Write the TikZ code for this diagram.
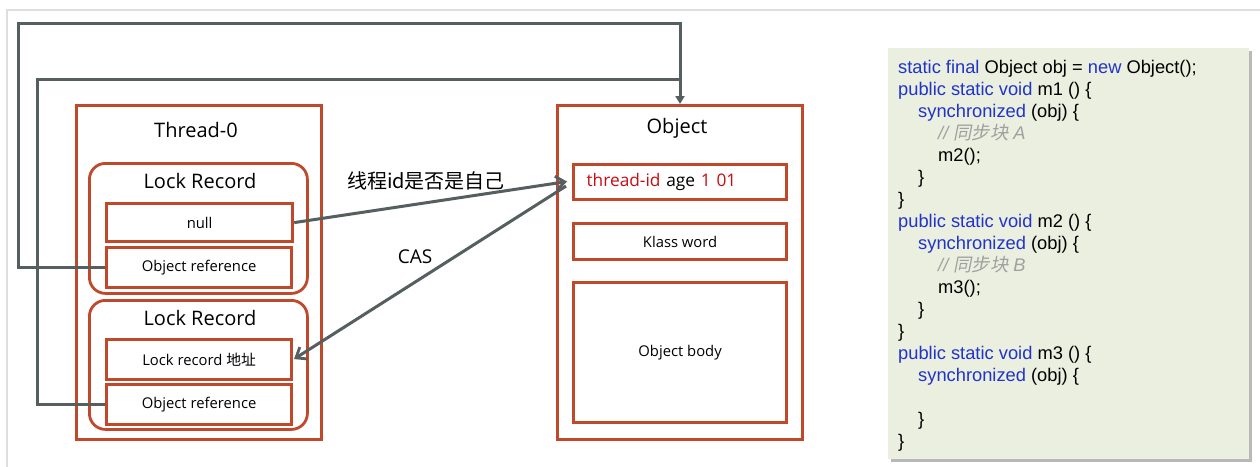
\documentclass[tikz,border=0pt]{standalone}
\usepackage{fontspec}
\setmainfont{Open Sans}
\newfontfamily\cjk{Noto Sans CJK SC}
\newfontfamily\cjkslant{Noto Sans CJK SC}[FakeSlant=0.2]
\newfontfamily\codefont{Liberation Sans}
\usetikzlibrary{arrows.meta}
\definecolor{boxred}{RGB}{192,72,43}
\definecolor{wire}{RGB}{85,95,95}
\definecolor{kw}{RGB}{32,52,200}
\definecolor{cmtgray}{RGB}{160,160,160}
\definecolor{codebg}{RGB}{235,239,223}
\definecolor{idred}{RGB}{200,12,20}
\definecolor{frame}{RGB}{222,222,222}
\newcommand\kwd[1]{\textcolor{kw}{#1}}
\newcommand\cmt[1]{\textcolor{cmtgray}{\itshape #1}}
\begin{document}
\begin{tikzpicture}[x=1pt,y=-1pt,
  outerbox/.style={draw=boxred,line width=3pt,anchor=north west,inner sep=0pt},
  recordbox/.style={draw=boxred,line width=2.8pt,rounded corners=16pt,anchor=north west,inner sep=0pt},
  field/.style={draw=boxred,line width=3.2pt,anchor=north west,inner sep=0pt,
    font=\fontsize{14.8}{17}\selectfont},
  heading/.style={font=\fontsize{20}{24}\selectfont,inner sep=0pt},
  wire/.style={draw=wire,line width=3pt},
  label/.style={font=\fontsize{19}{22}\selectfont,inner sep=0pt},
  codeline/.style={anchor=base west,inner sep=0pt,font=\codefont\fontsize{18.3}{22}\selectfont}]

% page and frame
\useasboundingbox (0,0) rectangle (1260,466);
\fill[white] (0,0) rectangle (1260,466);
\draw[frame,line width=2pt] (7,480) -- (7,10) -- (1270,10);

% thread side
\node[outerbox,minimum width=245pt,minimum height=334pt] (thread) at (75,104) {};
\node[heading] (threadtitle) at (196,130) {Thread-0};
\node[recordbox,minimum width=218pt,minimum height=130pt] (rec1) at (88,162) {};
\node[heading] (rec1title) at (200,181) {Lock Record};
\node[field,minimum width=186pt,minimum height=38pt] (null) at (105,202) {null};
\node[field,minimum width=185pt,minimum height=40pt] (oref1) at (105,246) {Object reference};
\node[recordbox,minimum width=218pt,minimum height=129pt] (rec2) at (88,299) {};
\node[heading] (rec2title) at (200,318) {Lock Record};
\node[field,minimum width=185pt,minimum height=40pt] (lraddr) at (105,338) {Lock record {\cjk 地址}};
\node[field,minimum width=185pt,minimum height=40pt] (oref2) at (105,383) {Object reference};

% object side
\node[outerbox,minimum width=245pt,minimum height=334pt] (obj) at (556,104) {};
\node[heading] (objtitle) at (677,128) {Object};
\node[field,minimum width=213pt,minimum height=35pt,font=\fontsize{17.3}{20}\selectfont,
  text width=187pt,align=left] (tid) at (572,163)
  {\textcolor{idred}{thread-id} age \textcolor{idred}{1 01}};
\node[field,minimum width=213pt,minimum height=36pt] (klass) at (572,222) {Klass word};
\node[field,minimum width=213pt,minimum height=140pt] (body) at (572,281) {Object body};

% references from the lock records back to the object
\coordinate (loopa) at (18,23);
\coordinate (loopb) at (37,79);
\draw[wire,-{Triangle[length=8pt,width=9pt]}] (oref1.west) -| (loopa) -| (obj.north);
\draw[wire] (oref2.west) -| (loopb) -- (loopb -| obj.north);

% mark word exchange
\draw[wire,-{Straight Barb[length=9pt,width=14pt,line width=2.8pt]},shorten >=3pt]
  (null.east) -- ([xshift=-2pt,yshift=1pt]tid.west);
\draw[wire,-{Straight Barb[length=9pt,width=14pt,line width=2.8pt]},shorten >=1pt]
  ([xshift=-6pt,yshift=-4pt]tid.west) -- (lraddr.east);
\node[label,font=\cjk\fontsize{20}{22}\selectfont] (checklbl) at (426,181) {线程id是否是自己};
\node[label] (caslbl) at (415,257) {CAS};

% code listing
\fill[black!28] (891,51) rectangle (1252,462);
\fill[codebg] (888,48) rectangle (1249,459);
\node[codeline] (c1)  at (898,73)  {\kwd{static final} Object obj = \kwd{new} Object();};
\node[codeline] (c2)  at (898,95)  {\kwd{public static void} m1 () \{};
\node[codeline] (c3)  at (918,117) {\kwd{synchronized} (obj) \{};
\node[codeline] (c4)  at (938,139) {\cmt{// {\cjkslant 同步块} A}};
\node[codeline] (c5)  at (938,161) {m2();};
\node[codeline] (c6)  at (918,183) {\}};
\node[codeline] (c7)  at (898,205) {\}};
\node[codeline] (c8)  at (898,227) {\kwd{public static void} m2 () \{};
\node[codeline] (c9)  at (918,249) {\kwd{synchronized} (obj) \{};
\node[codeline] (c10) at (938,271) {\cmt{// {\cjkslant 同步块} B}};
\node[codeline] (c11) at (938,293) {m3();};
\node[codeline] (c12) at (918,315) {\}};
\node[codeline] (c13) at (898,337) {\}};
\node[codeline] (c14) at (898,359) {\kwd{public static void} m3 () \{};
\node[codeline] (c15) at (918,381) {\kwd{synchronized} (obj) \{};
\node[codeline] (c16) at (918,425) {\}};
\node[codeline] (c17) at (898,447) {\}};
\end{tikzpicture}
\end{document}
